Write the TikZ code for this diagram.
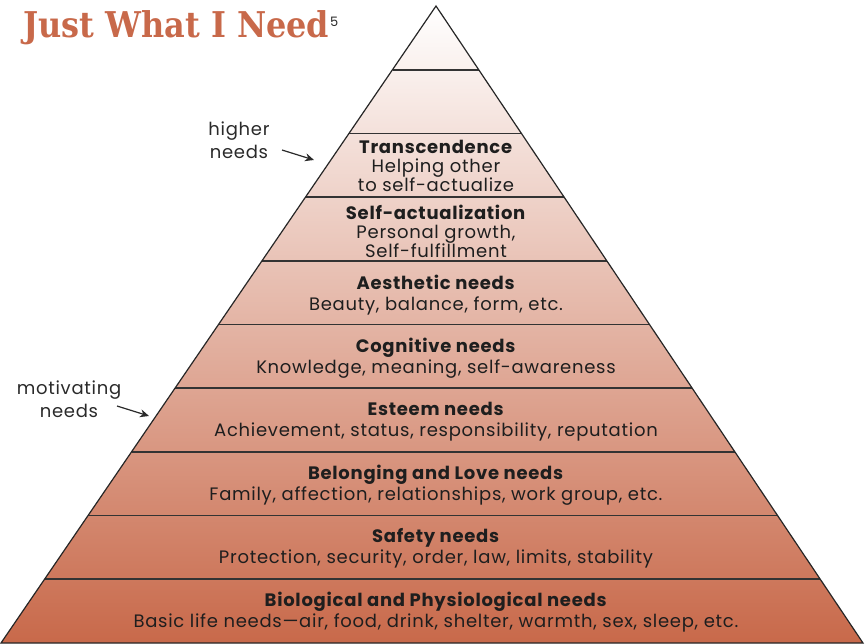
\documentclass[tikz,border=0pt]{standalone}
\usepackage{fontspec}
\setmainfont[LetterSpace=4]{Poppins}
\newfontfamily\titlefont{DejaVu Serif Condensed}
\usetikzlibrary{calc,positioning,arrows.meta}
\definecolor{needorange}{HTML}{C8694A}
\definecolor{needmid}{HTML}{E3AD95}
\definecolor{needtext}{HTML}{1E1E1E}
\definecolor{notegray}{HTML}{2A2A2A}

\begin{document}
\begin{tikzpicture}[x=1pt,y=-1pt]

% Definitions
\tikzstyle{Need} = [align=center, text=needtext, inner sep=0pt, font=\fontsize{18}{21}\selectfont]
\tikzstyle{NeedTall} = [Need, font=\fontsize{18}{19}\selectfont]
\tikzstyle{Note} = [align=center, text=notegray, inner sep=0pt, font=\fontsize{18}{23}\selectfont]
\tikzstyle{arrow} = [line width=1.2pt,->,>={Stealth[length=9pt,width=8pt]}, draw=notegray]
\tikzstyle{band} = [line width=1.6pt, draw=black!80]

\useasboundingbox (0,0) rectangle (865,644);

\coordinate (Top) at (436,6);
\coordinate (BL) at (1,643);
\coordinate (BR) at (863,643);

% pyramid
\shade [top color=white, middle color=needmid, bottom color=needorange] (Top) -- (BR) -- (BL) -- cycle;
\draw [band] ($(Top)!0.1!(BL)$) -- ($(Top)!0.1!(BR)$);
\draw [band] ($(Top)!0.2!(BL)$) -- ($(Top)!0.2!(BR)$);
\draw [band] ($(Top)!0.3!(BL)$) -- ($(Top)!0.3!(BR)$);
\draw [band] ($(Top)!0.4!(BL)$) -- ($(Top)!0.4!(BR)$);
\draw [band] ($(Top)!0.5!(BL)$) -- ($(Top)!0.5!(BR)$);
\draw [band] ($(Top)!0.6!(BL)$) -- ($(Top)!0.6!(BR)$);
\draw [band] ($(Top)!0.7!(BL)$) -- ($(Top)!0.7!(BR)$);
\draw [band] ($(Top)!0.8!(BL)$) -- ($(Top)!0.8!(BR)$);
\draw [band] ($(Top)!0.9!(BL)$) -- ($(Top)!0.9!(BR)$);
\draw [line width=1.2pt, draw=black!85, line join=miter] (Top) -- (BR) -- (BL) -- cycle;

% needs
\node (Trans) [NeedTall] at (436,166) {\textbf{Transcendence}\\Helping other\\to self-actualize};
\node (SelfAct) [NeedTall] at (436,231) {\textbf{Self-actualization}\\Personal growth,\\Self-fulfillment};
\node (Aesth) [Need] at (436,295) {\textbf{Aesthetic needs}\\Beauty, balance, form, etc.};
\node (Cogn) [Need] at (436,358.5) {\textbf{Cognitive needs}\\Knowledge, meaning, self-awareness};
\node (Esteem) [Need] at (436,422) {\textbf{Esteem needs}\\Achievement, status, responsibility, reputation};
\node (Belong) [Need] at (436,485.5) {\textbf{Belonging and Love needs}\\Family, affection, relationships, work group, etc.};
\node (Safety) [Need] at (436,548.5) {\textbf{Safety needs}\\Protection, security, order, law, limits, stability};
\node (Bio) [Need] at (436,612) {\textbf{Biological and Physiological needs}\\Basic life needs---air, food, drink, shelter, warmth, sex, sleep, etc.};

% title
\node (Title) [anchor=base west, inner sep=0pt, text=needorange, font=\titlefont\bfseries\fontsize{35.5}{40}\selectfont] at (23,38) {Just What I Need};
\node (Ref) [anchor=base west, inner sep=0pt, text=notegray, font=\fontsize{13}{14}\selectfont] at (330,27) {5};

% side notes
\node (Higher) [Note] at (239,140) {higher\\needs};
\node (Motiv) [Note] at (69,399) {motivating\\needs};
\coordinate (HigherTail) at (282,150);
\coordinate (HigherTip) at (314,160);
\coordinate (MotivTail) at (117,406);
\coordinate (MotivTip) at (149,416);
\draw [arrow] (HigherTail) -- (HigherTip);
\draw [arrow] (MotivTail) -- (MotivTip);

\end{tikzpicture}
\end{document}
